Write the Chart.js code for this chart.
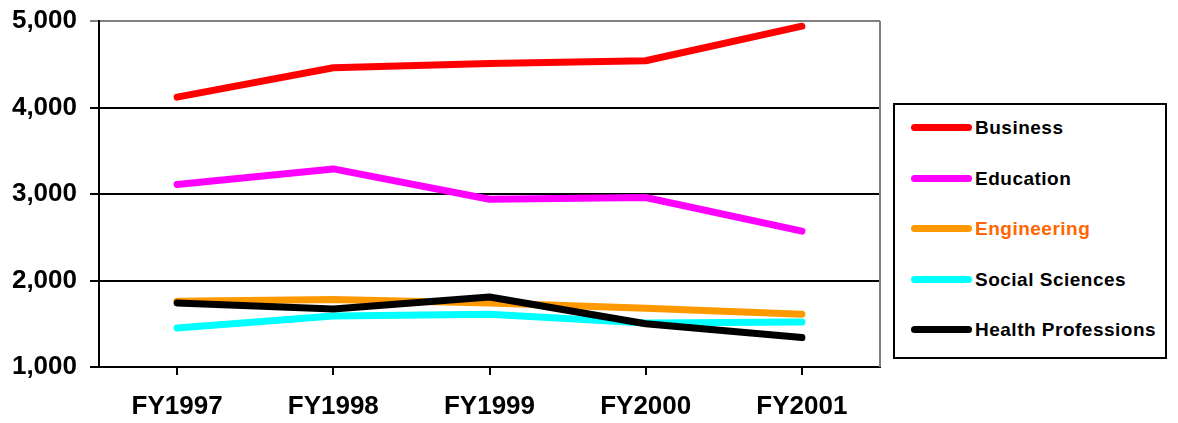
<!DOCTYPE html>
<html>
<head>
<meta charset="utf-8">
<script src="https://cdn.jsdelivr.net/npm/chart.js@4"></script>
<style>
  html, body { margin: 0; padding: 0; background: #fff; }
  #wrap { position: relative; width: 1178px; height: 423px; }
  #legend {
    position: absolute; left: 893px; top: 103px; width: 270px; height: 252px;
    border: 2px solid #000; background: #fff;
    font: bold 19px "Liberation Sans", Arial, sans-serif; letter-spacing: 0.5px;
  }
  .item { position: absolute; left: 0; height: 20px; }
  .item .swatch { position: absolute; left: 16px; top: 6px; width: 61px; height: 7px; border-radius: 4px; }
  .item .txt { position: absolute; left: 80px; top: 0; white-space: nowrap; line-height: 20px; }
</style>
</head>
<body>
<div id="wrap">
  <canvas id="chart" width="1178" height="423"></canvas>
  <div id="legend"></div>
</div>
<script>
// --- data ---
const years = ["FY1997", "FY1998", "FY1999", "FY2000", "FY2001"];
const business = [4120, 4460, 4510, 4540, 4940];
const education = [3110, 3290, 2940, 2960, 2570];
const engineering = [1760, 1780, 1740, 1680, 1610];
const socialSciences = [1450, 1590, 1610, 1510, 1520];
const healthProfessions = [1740, 1670, 1810, 1500, 1340];
const yTicks = [1000, 2000, 3000, 4000, 5000];

const series = [
  { label: "Business", data: business, color: "#FF0000", text: "#000" },
  { label: "Education", data: education, color: "#FF00FF", text: "#000" },
  { label: "Engineering", data: engineering, color: "#FF9900", text: "#FF6600" },
  { label: "Social Sciences", data: socialSciences, color: "#00FFFF", text: "#000" },
  { label: "Health Professions", data: healthProfessions, color: "#000000", text: "#000" },
];

const font = { family: "'Liberation Sans', Arial, sans-serif", size: 26, weight: "bold" };

// right border of plot area (gray)
const frame = {
  id: "frame",
  afterDraw(chart) {
    const { ctx, chartArea: a } = chart;
    ctx.save();
    ctx.strokeStyle = "#808080";
    ctx.lineWidth = 2;
    ctx.beginPath();
    ctx.moveTo(a.right, a.top);
    ctx.lineTo(a.right, a.bottom);
    ctx.stroke();
    ctx.restore();
  },
};

new Chart(document.getElementById("chart"), {
  type: "line",
  data: {
    labels: years,
    datasets: series.map((s, i) => ({
      label: s.label,
      data: s.data,
      borderColor: s.color,
      backgroundColor: s.color,
      borderWidth: 7,
      borderCapStyle: "round",
      borderJoinStyle: "round",
      pointRadius: 0,
      tension: 0,
      order: series.length - i,
    })),
  },
  options: {
    responsive: false,
    animation: false,
    layout: { padding: { top: 21, right: 298, left: 0, bottom: 0 } },
    plugins: { legend: { display: false }, tooltip: { enabled: false } },
    scales: {
      x: {
        offset: true,
        grid: { drawOnChartArea: false, drawTicks: true, tickLength: 8, color: "#000", lineWidth: 2 },
        border: { color: "#000", width: 2 },
        ticks: { color: "#000", font, padding: 16, maxRotation: 0 },
        afterFit(scale) { scale.height = 56; },
      },
      y: {
        min: 1000,
        max: 5000,
        afterBuildTicks(scale) { scale.ticks = yTicks.map(v => ({ value: v })); },
        grid: {
          color: c => (c.tick && c.tick.value === 5000 ? "#808080" : "#000"),
          lineWidth: 2,
          tickLength: 9,
        },
        border: { color: "#000", width: 2 },
        ticks: { color: "#000", font, padding: 13, callback: v => v.toLocaleString("en-US") },
        afterFit(scale) {
          scale.width = 99;
          scale.paddingTop = 0;
          scale.paddingBottom = 0;
        },
      },
    },
  },
  plugins: [frame],
});

// --- legend ---
const legend = document.getElementById("legend");
series.forEach((s, i) => {
  const row = document.createElement("div");
  row.className = "item";
  row.style.top = (13 + i * 50.5) + "px";
  row.innerHTML = '<div class="swatch" style="background:' + s.color + '"></div>' +
    '<div class="txt" style="color:' + s.text + '">' + s.label + '</div>';
  legend.appendChild(row);
});
</script>
</body>
</html>
